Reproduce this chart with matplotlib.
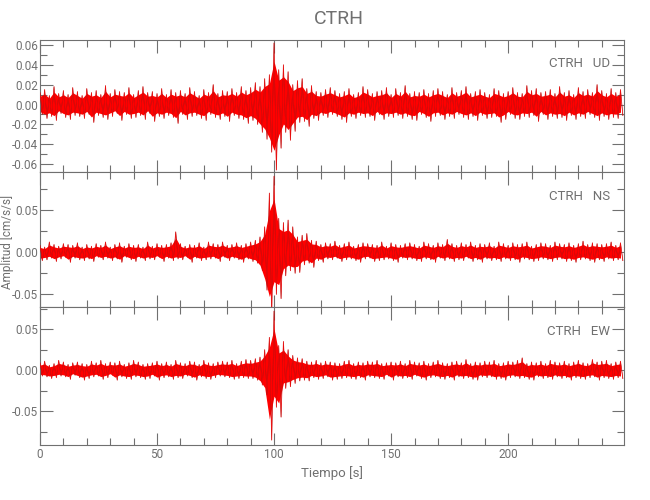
"""Registro de aceleracion de la estacion CTRH (componentes UD, NS, EW)."""

import matplotlib

matplotlib.use("Agg")
import matplotlib.pyplot as plt  # noqa: E402
import numpy as np  # noqa: E402
from matplotlib.ticker import MultipleLocator  # noqa: E402

plt.rcParams["font.family"] = ["Roboto", "DejaVu Sans"]

STATION = "CTRH"
COMPONENTS = ["UD", "NS", "EW"]
DT = 1.0  # s entre picos leidos
SCALE = 1e-3  # valores en milesimas de cm/s/s

# picos sucesivos (max/min) leidos cada segundo, en 1e-3 cm/s/s
ud_peaks = [
    12, -10, 15, -14, 9, -12, 18, -16, 11, -9, 14, -13, 10, -15, 17, -11, 13, -12, 9, -14,
    16, -10, 12, -18, 14, -11, 10, -13, 19, -15, 11, -12, 15, -9, 13, -16, 12, -10, 17, -14,
    10, -13, 14, -11, 18, -15, 12, -9, 13, -17, 11, -12, 16, -14, 10, -11, 15, -13, 12, -19,
    14, -10, 11, -15, 17, -12, 13, -11, 9, -14, 15, -16, 12, -10, 20, -13, 11, -15, 14, -12,
    13, -17, 16, -11, 12, -14, 18, -15, 14, -19, 17, -16, 22, -20, 18, -28, 26, -35, 30, -48,
    62, -66, 35, -44, 40, -28, 33, -36, 20, -27, 24, -18, 26, -17, 16, -22, 19, -14, 13, -16,
    12, -11, 15, -13, 17, -10, 14, -12, 11, -15, 13, -18, 16, -12, 10, -14, 12, -11, 18, -13,
    15, -12, 11, -16, 13, -10, 14, -15, 17, -12, 10, -13, 16, -11, 12, -14, 19, -12, 11, -15,
    13, -16, 12, -10, 15, -13, 11, -17, 14, -12, 16, -11, 13, -15, 10, -12, 17, -14, 12, -10,
    14, -13, 18, -15, 11, -12, 13, -16, 15, -11, 12, -14, 10, -13, 16, -12, 14, -18, 11, -15,
    13, -10, 17, -14, 12, -15, 11, -12, 19, -13, 14, -11, 16, -17, 12, -10, 13, -15, 15, -12,
    11, -14, 18, -13, 12, -16, 14, -11, 10, -15, 17, -12, 13, -14, 15, -10, 12, -13, 20, -16,
    14, -12, 11, -15, 16, -13, 12, -14, 15, -11,
]
ns_peaks = [
    8, -10, 6, -9, 12, -7, 9, -11, 7, -8, 10, -6, 9, -12, 8, -7, 11, -9, 6, -10,
    9, -8, 7, -11, 10, -6, 8, -9, 12, -7, 6, -10, 9, -8, 11, -12, 7, -6, 10, -9,
    8, -11, 9, -7, 6, -10, 12, -8, 7, -9, 10, -6, 8, -11, 9, -7, 11, -10, 24, -8,
    10, -9, 7, -6, 9, -12, 8, -7, 11, -10, 6, -9, 12, -8, 10, -7, 9, -11, 12, -6,
    8, -10, 9, -7, 11, -9, 8, -12, 10, -8, 12, -11, 14, -13, 18, -22, 30, -45, 70, -75,
    90, -50, 40, -55, 35, -28, 38, -22, 30, -25, 18, -24, 20, -15, 22, -13, 14, -18, 13, -10,
    9, -12, 11, -8, 10, -9, 13, -7, 8, -11, 10, -9, 12, -8, 7, -10, 9, -12, 11, -8,
    10, -7, 9, -11, 8, -10, 12, -9, 7, -8, 11, -10, 9, -12, 8, -7, 10, -9, 11, -8,
    9, -10, 7, -11, 12, -8, 10, -9, 8, -12, 11, -7, 9, -10, 15, -8, 10, -11, 8, -9,
    11, -10, 9, -7, 12, -11, 8, -9, 10, -12, 9, -8, 11, -10, 7, -9, 12, -11, 10, -8,
    8, -10, 11, -9, 9, -12, 10, -8, 12, -9, 7, -11, 9, -10, 11, -8, 10, -9, 8, -11,
    12, -9, 10, -8, 9, -11, 11, -10, 8, -12, 10, -9, 13, -8, 9, -10, 11, -12, 10, -9,
    9, -11, 10, -8, 12, -10, 8, -9, 11, -10,
]
ew_peaks = [
    9, -7, 11, -8, 6, -10, 8, -9, 12, -7, 10, -8, 7, -11, 9, -6, 10, -9, 8, -12,
    7, -10, 11, -8, 9, -7, 12, -11, 8, -9, 10, -6, 9, -12, 11, -8, 7, -10, 9, -11,
    12, -8, 10, -9, 7, -11, 8, -10, 9, -7, 11, -12, 8, -9, 10, -8, 7, -11, 12, -9,
    9, -10, 8, -7, 11, -9, 10, -12, 7, -8, 12, -10, 9, -11, 8, -9, 10, -7, 11, -8,
    10, -9, 12, -11, 8, -10, 11, -9, 13, -10,
    12, -10, 14, -12, 16, -18, 25, -30, 40, -85, 72, -45, 30, -57, 35, -22, 25, -20, 18, -16,
    15, -13, 14, -12, 11, -13, 10, -9, 12, -11, 9, -10, 11, -8, 10, -12, 9, -11, 8, -10,
    11, -9, 12, -10, 8, -11, 10, -9, 9, -12, 11, -8, 10, -9, 12, -10, 8, -11, 9, -7,
    10, -12, 9, -8, 11, -10, 8, -9, 12, -11, 10, -7, 9, -10, 11, -12, 8, -9, 10, -8,
    12, -10, 9, -11, 8, -9, 10, -12, 11, -8, 9, -10, 13, -9, 8, -11, 10, -12, 9, -8,
    11, -9, 10, -8, 12, -11, 8, -10, 9, -12, 11, -9, 10, -8, 12, -10, 15, -9, 8, -11,
    10, -12, 9, -8, 11, -10, 8, -9, 12, -11, 10, -8, 9, -10, 11, -9, 8, -12, 10, -9,
    12, -10, 9, -11, 8, -9, 13, -8, 10, -12, 11, -9, 12, -10, 8, -11, 10, -9, 11, -10,
]

Y_LIMITS = [(-0.068, 0.065), (-0.065, 0.095), (-0.091, 0.077)]
Y_MAJOR = [0.02, 0.05, 0.05]
Y_MINOR = [0.01, 0.025, 0.025]
X_MAX = 249.5

GRAY = "#707070"
TRACE = "#ff0000"

# posiciones de paneles en fraccion de figura: [izq, abajo, ancho, alto]
PANELS = [
    [0.0615, 0.656, 0.8985, 0.264],
    [0.0615, 0.386, 0.8985, 0.270],
    [0.0615, 0.110, 0.8985, 0.276],
]


def style_axis(ax, i):
    ax.set_xlim(0, X_MAX)
    ax.set_ylim(*Y_LIMITS[i])
    ax.xaxis.set_major_locator(MultipleLocator(50))
    ax.xaxis.set_minor_locator(MultipleLocator(10))
    ax.yaxis.set_major_locator(MultipleLocator(Y_MAJOR[i]))
    ax.yaxis.set_minor_locator(MultipleLocator(Y_MINOR[i]))
    ax.tick_params(which="both", direction="in", top=True, right=True,
                   color=GRAY, labelcolor=GRAY, labelsize=8.5, width=0.8)
    ax.tick_params(which="major", length=9, pad=2)
    ax.tick_params(axis="y", which="major", pad=1.5)
    ax.tick_params(which="minor", length=5)
    ax.yaxis.set_major_formatter(plt.FuncFormatter(lambda v, _: f"{v:.2f}"))
    for sp in ax.spines.values():
        sp.set_color(GRAY)
        sp.set_linewidth(0.8)


fig = plt.figure(figsize=(6.5, 5.0), dpi=100)
traces = [ud_peaks, ns_peaks, ew_peaks]
axes = []
for i, (peaks, comp) in enumerate(zip(traces, COMPONENTS)):
    ax = fig.add_axes(PANELS[i])
    t = np.arange(len(peaks)) * DT
    y = np.array(peaks) * SCALE
    # nucleo solido de la banda entre picos consecutivos
    n = len(peaks) // 2
    ax.fill_between(t[0:2 * n:2], y[0:2 * n:2] * 0.7, y[1:2 * n:2] * 0.7,
                    color=TRACE, lw=0, zorder=2)
    ax.plot(t, y, color="#303030", lw=0.3, zorder=3)
    ax.plot(t, y, color=TRACE, lw=0.6, alpha=0.85, zorder=4)
    style_axis(ax, i)
    if i < 2:
        ax.tick_params(labelbottom=False)
    ax.text(0.976, 0.82, f"{STATION}   {comp}", transform=ax.transAxes,
            ha="right", va="center", color=GRAY, fontsize=9.5)
    axes.append(ax)

fig.text(0.521, 0.962, STATION, ha="center", va="center", color=GRAY, fontsize=14)
fig.text(0.0105, 0.516, "Amplitud [cm/s/s]", rotation=90, ha="center", va="center",
         color=GRAY, fontsize=8.5)
axes[-1].set_xlabel("Tiempo [s]", color=GRAY, fontsize=9.5, labelpad=4)

fig.savefig("out.png", dpi=100)
